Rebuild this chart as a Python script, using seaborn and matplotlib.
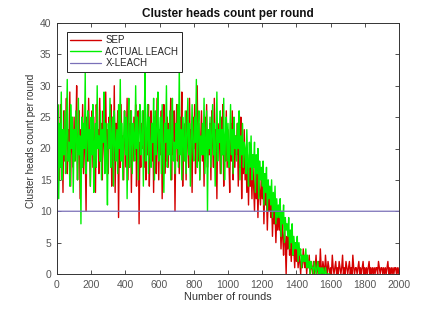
import matplotlib
matplotlib.use("Agg")
import matplotlib.pyplot as plt
import numpy as np
import pandas as pd
import seaborn as sns

# Values, one sample every 5 rounds
step = 5

sep_counts = [
    31, 17, 24, 15, 27, 19, 22, 13, 26, 18,
    21, 28, 16, 23, 19, 29, 14, 24, 20, 17,
    25, 18, 22, 30, 15, 21, 26, 12, 23, 19,
    27, 16, 24, 20, 10, 25, 18, 28, 21, 14,
    22, 26, 17, 25, 19, 13, 27, 20, 23, 16,
    28, 18, 24, 15, 26, 21, 17, 29, 19, 23,
    16, 25, 20, 27, 14, 22, 18, 30, 13, 24,
    20, 26, 9, 23, 17, 27, 19, 22, 15, 26,
    21, 17, 28, 15, 24, 20, 26, 13, 23, 18,
    25, 19, 27, 14, 22, 26, 8, 21, 17, 24,
    20, 26, 17, 29, 15, 23, 19, 27, 14, 22,
    26, 18, 24, 13, 25, 21, 16, 28, 20, 15,
    23, 19, 26, 12, 22, 27, 16, 21, 18, 25,
    17, 24, 20, 28, 15, 23, 19, 26, 10, 22,
    27, 18, 23, 16, 25, 20, 29, 14, 22, 19,
    24, 15, 26, 21, 17, 28, 19, 23, 13, 25,
    20, 27, 16, 22, 30, 18, 24, 15, 21, 26,
    18, 23, 14, 25, 20, 27, 17, 22, 19, 24,
    15, 26, 21, 17, 28, 19, 23, 12, 24, 20,
    22, 16, 25, 19, 27, 14, 21, 18, 26, 17,
    23, 19, 13, 24, 18, 26, 15, 21, 17, 22,
    19, 24, 14, 21, 17, 25, 12, 20, 16, 23,
    15, 20, 13, 18, 11, 19, 14, 17, 12, 18,
    14, 10, 17, 12, 16, 9, 15, 13, 11, 16,
    12, 15, 8, 14, 11, 13, 7, 12, 10, 13,
    9, 12, 6, 11, 8, 10, 5, 9, 7, 10,
    7, 9, 4, 8, 6, 3, 8, 5, 0, 6,
    4, 7, 3, 5, 2, 6, 3, 4, 1, 5,
    2, 4, 1, 3, 2, 0, 3, 1, 4, 2,
    1, 3, 0, 2, 1, 3, 0, 2, 1, 0,
    2, 0, 1, 3, 0, 1, 2, 0, 4, 1,
    0, 2, 1, 0, 3, 1, 0, 2, 1, 0,
    1, 0, 3, 1, 0, 1, 2, 0, 1, 0,
    2, 1, 0, 1, 3, 0, 1, 0, 2, 1,
    0, 1, 2, 0, 1, 0, 3, 1, 0, 1,
    1, 0, 1, 2, 0, 1, 0, 1, 2, 0,
    1, 0, 1, 0, 1, 2, 0, 1, 0, 1,
    0, 1, 0, 1, 1, 0, 2, 1, 0, 1,
    1, 0, 1, 0, 1, 0, 1, 2, 0, 1,
    0, 1, 0, 1, 0, 1, 1, 0, 1, 0,
    1,
]

leach_counts = [
    20, 27, 12, 24, 17, 29, 15, 23, 19, 26,
    16, 22, 31, 18, 21, 14, 27, 20, 25, 13,
    23, 18, 26, 21, 15, 28, 19, 22, 8, 25,
    17, 24, 20, 32, 16, 22, 26, 18, 23, 14,
    25, 19, 27, 13, 21, 24, 17, 30, 20, 22,
    18, 26, 15, 23, 21, 29, 16, 24, 19, 11,
    24, 20, 28, 17, 22, 25, 14, 26, 21, 18,
    23, 16, 27, 20, 31, 18, 24, 15, 22, 26,
    19, 25, 12, 23, 28, 17, 21, 26, 16, 24,
    22, 18, 30, 20, 25, 15, 23, 27, 19, 21,
    26, 14, 24, 32, 18, 22, 27, 16, 25, 20,
    17, 24, 21, 28, 15, 26, 19, 23, 29, 18,
    22, 25, 16, 27, 20, 13, 24, 21, 30, 17,
    23, 19, 26, 15, 22, 28, 18, 21, 16, 24,
    20, 27, 17, 33, 19, 23, 15, 25, 21, 18,
    26, 16, 22, 28, 19, 24, 14, 21, 27, 20,
    18, 25, 21, 31, 17, 23, 26, 15, 22, 19,
    24, 19, 28, 16, 21, 26, 10, 23, 20, 25,
    17, 22, 27, 19, 24, 14, 21, 29, 18, 23,
    21, 26, 16, 23, 19, 28, 15, 22, 25, 18,
    24, 17, 21, 27, 19, 23, 16, 25, 20, 22,
    18, 24, 20, 26, 15, 22, 19, 24, 17, 21,
    20, 16, 23, 18, 14, 21, 17, 22, 15, 19,
    17, 21, 13, 19, 16, 20, 12, 18, 15, 17,
    14, 18, 11, 16, 13, 17, 10, 15, 12, 14,
    11, 15, 9, 13, 10, 14, 8, 12, 9, 11,
    9, 12, 6, 10, 8, 11, 5, 9, 7, 8,
    6, 9, 4, 7, 5, 8, 3, 6, 4, 5,
    4, 6, 2, 5, 3, 4, 1, 3, 2, 3,
    2, 4, 1, 3, 1, 2, 0, 2, 1, 1,
    0, 2, 1, 0, 1, 2, 0, 1, 0, 1,
    0, 1, 0, 0, 1, 0, 0, 0, 0, 0,
]

xleach_rounds = [0, 1, 2000]
xleach_counts = [0, 10, 10]

sep_df = pd.DataFrame({"round": np.arange(len(sep_counts)) * step, "count": sep_counts})
leach_df = pd.DataFrame({"round": np.arange(len(leach_counts)) * step, "count": leach_counts})
xleach_df = pd.DataFrame({"round": xleach_rounds, "count": xleach_counts})

sns.set_theme(style="white")
plt.rcParams["font.family"] = ["Liberation Sans", "DejaVu Sans"]

fig = plt.figure(figsize=(4.41, 3.09), dpi=100)
ax = fig.add_axes([57 / 441, 35 / 309, 342 / 441, 251 / 309])

sns.lineplot(data=sep_df, x="round", y="count", ax=ax, color="#d40000",
             linewidth=1.0, estimator=None, label="SEP")
sns.lineplot(data=leach_df, x="round", y="count", ax=ax, color="#00f000",
             linewidth=1.0, estimator=None, label="ACTUAL LEACH")
sns.lineplot(data=xleach_df, x="round", y="count", ax=ax, color="#7a70b8",
             linewidth=0.9, estimator=None, label="X-LEACH")

ax.set_xlim(0, 2000)
ax.set_ylim(0, 40)
ax.set_xticks(range(0, 2001, 200))
ax.set_yticks(range(0, 41, 5))
ax.tick_params(direction="in", length=3, width=0.6, labelsize=7.5,
               labelcolor="#555555", color="#333333", top=True, right=True,
               bottom=True, left=True, pad=4)
for spine in ax.spines.values():
    spine.set_color("#333333")
    spine.set_linewidth(0.7)

ax.set_title("Cluster heads count per round", fontsize=8.5, fontweight="bold",
             pad=4, color="#111111")
ax.set_xlabel("Number of rounds", fontsize=7.8, color="#333333", labelpad=2)
ax.set_ylabel("Cluster heads count per round", fontsize=7.2, color="#333333")
ax.yaxis.set_label_coords(-0.06, 0.53)

leg = ax.legend(loc="upper left", bbox_to_anchor=(0.029, 0.964), fontsize=7,
                frameon=True, fancybox=False, edgecolor="#222222",
                borderaxespad=0, handlelength=3.2, labelspacing=0.15,
                borderpad=0.35, handletextpad=0.4, framealpha=1)
leg.get_frame().set_linewidth(0.7)

fig.savefig("out.png", dpi=100)
